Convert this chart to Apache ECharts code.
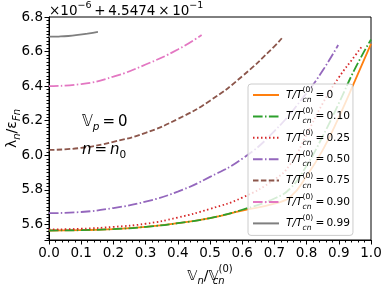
<!DOCTYPE html>
<html><head><meta charset="utf-8">
<script src="https://cdn.jsdelivr.net/npm/echarts@6/dist/echarts.min.js"></script>
<style>html,body{margin:0;padding:0;background:#fff}#c{width:382px;height:286px}</style>
</head><body><div id="c"></div>
<script>
// ---- data ----
const legendValues = ['0', '0.10', '0.25', '0.50', '0.75', '0.90', '0.99'];
const seriesColors = ['#ff7f0e', '#2ca02c', '#d62728', '#9467bd', '#8c564b', '#e377c2', '#7f7f7f'];
const xTicks = [0, 0.1, 0.2, 0.3, 0.4, 0.5, 0.6, 0.7, 0.8, 0.9, 1.0];
const yTicks = [5.6, 5.8, 6.0, 6.2, 6.4, 6.6, 6.8];

const xT000 = [0, 0.1, 0.2, 0.3, 0.4, 0.5, 0.6, 0.7, 0.75, 0.8, 0.85, 0.9, 0.95, 1.0];
const yT000 = [5.565, 5.567, 5.573, 5.586, 5.607, 5.637, 5.68, 5.72, 5.76, 5.88, 6.03, 6.22, 6.43, 6.645];
const xT010 = [0, 0.1, 0.2, 0.3, 0.4, 0.5, 0.6, 0.7, 0.75, 0.8, 0.85, 0.9, 0.95, 1.0];
const yT010 = [5.565, 5.567, 5.573, 5.586, 5.607, 5.637, 5.685, 5.75, 5.81, 5.94, 6.11, 6.30, 6.50, 6.67];
const xT025 = [0, 0.1, 0.2, 0.3, 0.4, 0.5, 0.6, 0.7, 0.75, 0.8, 0.85, 0.9, 0.95, 0.971];
const yT025 = [5.571, 5.575, 5.586, 5.604, 5.64, 5.69, 5.755, 5.86, 5.95, 6.12, 6.30, 6.45, 6.575, 6.628];
const xT050 = [0, 0.1, 0.2, 0.3, 0.4, 0.5, 0.6, 0.7, 0.8, 0.85, 0.898];
const yT050 = [5.665, 5.672, 5.695, 5.732, 5.79, 5.875, 5.98, 6.14, 6.36, 6.49, 6.638];
const xT075 = [0, 0.1, 0.2, 0.3, 0.4, 0.5, 0.6, 0.7, 0.723];
const yT075 = [6.031, 6.043, 6.078, 6.13, 6.21, 6.316, 6.457, 6.63, 6.677];
const xT090 = [0, 0.1, 0.2, 0.3, 0.4, 0.474];
const yT090 = [6.400, 6.412, 6.455, 6.525, 6.612, 6.696];
const xT099 = [0, 0.03, 0.06, 0.09, 0.12, 0.152];
const yT099 = [6.686, 6.687, 6.690, 6.696, 6.704, 6.714];

const xSets = [xT000, xT010, xT025, xT050, xT075, xT090, xT099];
const ySets = [yT000, yT010, yT025, yT050, yT075, yT090, yT099];
const dashTypes = ['solid', [9.6, 2.4, 1.5, 2.4], [1.5, 2.5], [9.6, 2.4, 1.5, 2.4], [5.5, 2.4], [9.6, 2.4, 1.5, 2.4], 'solid'];

const FF = 'DejaVu Sans';
const chart = echarts.init(document.getElementById('c'), null, {renderer: 'canvas'});

const series = legendValues.map((name, i) => ({
  name: name,
  type: 'line',
  data: xSets[i].map((x, k) => [x, ySets[i][k]]),
  symbol: 'none',
  smooth: 0.5,
  color: seriesColors[i],
  lineStyle: {width: 1.8, type: dashTypes[i], color: seriesColors[i]}
}));

const isTick = (v, arr) => arr.some(t => Math.abs(t - v) < 1e-6);

chart.setOption({
  animation: false,
  backgroundColor: '#fff',
  title: {
    text: '{a|×10}{s|−6}{a|\u2009+\u20094.5474\u2009×\u200910}{s|−1}',
    left: 49, top: 1, padding: 0,
    textStyle: {
      fontWeight: 'normal',
      rich: {
        a: {fontSize: 13.5, fontFamily: FF, fontWeight: 'normal', color: '#000', lineHeight: 20},
        s: {fontSize: 9.5, fontFamily: FF, fontWeight: 'normal', color: '#000', verticalAlign: 'top', lineHeight: 12}
      }
    }
  },
  grid: {left: 49, right: 11, top: 17, bottom: 46, containLabel: false, outerBoundsMode: 'none',
    show: true, borderColor: '#000', borderWidth: 1, backgroundColor: 'transparent'},
  legend: {
    orient: 'vertical', left: 248, top: 84,
    padding: [2, 3, 3, 4],
    itemGap: 3.4, itemWidth: 26, itemHeight: 14,
    backgroundColor: 'rgba(255,255,255,0.8)', borderColor: '#cccccc', borderWidth: 1, borderRadius: 3,
    itemStyle: {opacity: 0},
    data: legendValues,
    formatter: n => '{it|T/T}{sb|cn}{sp|(0)}{t|\u2009=\u2009' + n + '}',
    textStyle: {
      rich: {
        it: {fontSize: 10.6, fontFamily: FF, fontStyle: 'italic', color: '#000', lineHeight: 18, padding: [0, 0, 0, 2]},
        sb: {fontSize: 7.6, fontFamily: FF, fontStyle: 'italic', color: '#000', verticalAlign: 'bottom', width: 0},
        sp: {fontSize: 7.6, fontFamily: FF, color: '#000', verticalAlign: 'top'},
        t: {fontSize: 10.6, fontFamily: FF, color: '#000', lineHeight: 18}
      }
    }
  },
  xAxis: {
    type: 'value', min: 0, max: 1, interval: 0.1,
    axisLine: {show: true, onZero: false, lineStyle: {color: '#000', width: 1}},
    axisTick: {show: true, length: 4.5, lineStyle: {color: '#000'}},
    minorTick: {show: true, splitNumber: 5, length: 2.5, lineStyle: {color: '#000'}},
    splitLine: {show: false},
    axisLabel: {color: '#000', fontSize: 13.5, fontFamily: FF, margin: 6,
      formatter: v => isTick(v, xTicks) ? v.toFixed(1) : ''},
    name: '{v|𝕍}{sb|n}{v|/𝕍}{sb2|cn}{sp|(0)}',
    nameLocation: 'middle', nameGap: 17,
    nameTextStyle: {
      rich: {
        v: {fontSize: 14, fontFamily: FF, color: '#000', lineHeight: 22},
        sb: {fontSize: 10, fontFamily: FF, fontStyle: 'italic', color: '#000', verticalAlign: 'bottom'},
        sb2: {fontSize: 10, fontFamily: FF, fontStyle: 'italic', color: '#000', verticalAlign: 'bottom', width: 0},
        sp: {fontSize: 10, fontFamily: FF, color: '#000', verticalAlign: 'top'}
      }
    }
  },
  yAxis: {
    type: 'value', min: 5.51, max: 6.8, splitNumber: 6,
    axisLine: {show: true, onZero: false, lineStyle: {color: '#000', width: 1}},
    axisTick: {show: true, length: 4.5, lineStyle: {color: '#000'}},
    minorTick: {show: true, splitNumber: 10, length: 2.5, lineStyle: {color: '#000'}},
    splitLine: {show: false},
    axisLabel: {color: '#000', fontSize: 13.5, fontFamily: FF, margin: 6,
      formatter: v => isTick(v, yTicks) ? v.toFixed(1) : ''}
  },
  graphic: [
    {type: 'text', x: 12, y: 128.5, rotation: Math.PI / 2, z: 10, style: {
      text: '{m|λ}{sb|n}{m|/ε}{sb|Fn}', align: 'center', verticalAlign: 'middle',
      rich: {
        m: {fontSize: 14, fontFamily: FF, fill: '#000', lineHeight: 20},
        sb: {fontSize: 10, fontFamily: FF, fontStyle: 'italic', fill: '#000', verticalAlign: 'bottom'}
      }}},
    {type: 'text', x: 82, y: 122, z: 10, style: {
      text: '{v|𝕍}{sb|p}{t|\u2009=\u20090}', verticalAlign: 'middle',
      rich: {
        v: {fontSize: 15, fontFamily: FF, fill: '#000', lineHeight: 22},
        sb: {fontSize: 10.5, fontFamily: FF, fontStyle: 'italic', fill: '#000', verticalAlign: 'bottom'},
        t: {fontSize: 15, fontFamily: FF, fill: '#000', lineHeight: 22}
      }}},
    {type: 'text', x: 82, y: 150, z: 10, style: {
      text: '{i|n}{t|\u2009=\u2009}{i|n}{sb|0}', verticalAlign: 'middle',
      rich: {
        i: {fontSize: 15, fontFamily: FF, fontStyle: 'italic', fill: '#000', lineHeight: 22},
        sb: {fontSize: 10.5, fontFamily: FF, fill: '#000', verticalAlign: 'bottom'},
        t: {fontSize: 15, fontFamily: FF, fill: '#000', lineHeight: 22}
      }}}
  ],
  series: series
});
</script></body></html>
